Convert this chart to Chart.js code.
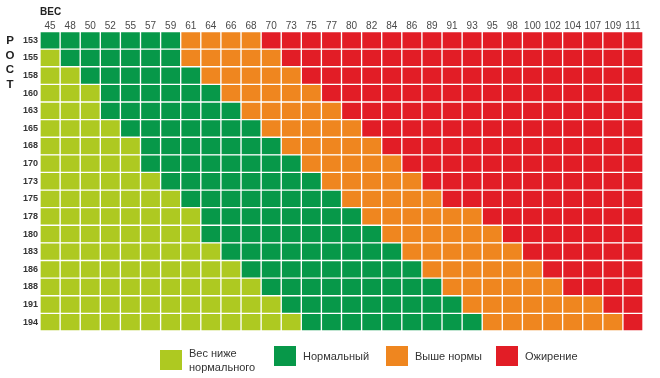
<!DOCTYPE html>
<html>
<head>
<meta charset="utf-8">
<script src="https://cdn.jsdelivr.net/npm/chart.js@4/dist/chart.umd.min.js"></script>
<style>
  html, body { margin: 0; padding: 0; background: #fff; }
  #wrap { position: relative; width: 660px; height: 378px; overflow: hidden; font-family: "Liberation Sans", Arial, sans-serif; }
  #c { position: absolute; left: 0; top: 0; }
  #rost { position: absolute; left: 3px; top: 33px; width: 14px; text-align: center; font-weight: bold; font-size: 11.5px; line-height: 14.5px; color: #222; }
  .lg { position: absolute; top: 346px; display: flex; align-items: center; font-size: 11px; color: #333; }
  .sw { width: 22px; height: 20px; margin-right: 7px; flex: none; }
  .lt { line-height: 14px; }
</style>
</head>
<body>
<div id="wrap">
  <canvas id="c" width="660" height="378"></canvas>
  <div id="rost">Р<br>О<br>С<br>Т</div>
  <div id="legend"></div>
</div>
<script>
// Weights (columns, kg) and heights (rows, cm)
const weights = [45,48,50,52,55,57,59,61,64,66,68,70,73,75,77,80,82,84,86,89,91,93,95,98,100,102,104,107,109,111];
const heights = [153,155,158,160,163,165,168,170,173,175,178,180,183,186,188,191,194];
// Per height row: number of cells in each category, read left to right
const underCount  = [0,1,2,3,3,4,5,5,6,7,8,8,9,10,11,12,13];
const normalCount = [7,6,6,6,7,7,7,8,8,8,8,9,9,9,9,9,9];
const overCount   = [4,5,5,5,5,5,5,5,5,5,6,6,6,6,6,7,7];
// Categories
const categoryNames = ['Вес ниже\nнормального', 'Нормальный', 'Выше нормы', 'Ожирение'];
const categoryColors = ['#aec921', '#079849', '#ef861f', '#e21d26'];

function categoryOf(row, col) {
  const u = underCount[row], n = normalCount[row], o = overCount[row];
  if (col < u) return 0;
  if (col < u + n) return 1;
  if (col < u + n + o) return 2;
  return 3;
}

Chart.defaults.font.family = '"Liberation Sans", Arial, sans-serif';

const datasets = weights.map((w, col) => ({
  label: String(w),
  data: heights.map(() => [col, col + 1]),
  backgroundColor: (ctx) => categoryColors[categoryOf(ctx.dataIndex, col)]
}));

new Chart(document.getElementById('c'), {
  type: 'bar',
  data: { labels: heights.map(String), datasets },
  options: {
    indexAxis: 'y',
    responsive: false,
    animation: false,
    layout: { padding: { left: 0, right: 17, top: 0, bottom: 47 } },
    plugins: { legend: { display: false }, tooltip: { enabled: false } },
    datasets: {
      bar: {
        categoryPercentage: 1,
        barPercentage: 1,
        grouped: false,
        borderColor: '#ffffff',
        borderWidth: 1,
        borderSkipped: false
      }
    },
    scales: {
      x: {
        type: 'linear',
        position: 'top',
        min: 0,
        max: weights.length,
        grid: { display: false, drawTicks: false },
        border: { display: false },
        afterBuildTicks: (s) => { s.ticks = weights.map((w, i) => ({ value: i + 0.5 })); },
        ticks: {
          autoSkip: false,
          maxRotation: 0,
          padding: -1,
          color: '#4a4a4a',
          font: { size: 10 },
          callback: (v) => String(weights[Math.floor(v)])
        },
        title: {
          display: true,
          text: 'ВЕС',
          align: 'start',
          color: '#222',
          font: { size: 10, weight: 'bold' },
          padding: { top: 6, bottom: 2 }
        },
        afterFit: (s) => { s.height = 31.5; }
      },
      y: {
        type: 'category',
        grid: { display: false, drawTicks: false },
        border: { display: false },
        ticks: { padding: 2, color: '#333', font: { size: 9, weight: 'bold' } },
        afterFit: (s) => { s.width = 40; }
      }
    }
  }
});

// HTML legend
const legendPos = [160, 274, 386, 496];
const legend = document.getElementById('legend');
categoryNames.forEach((name, i) => {
  const item = document.createElement('div');
  item.className = 'lg';
  item.style.left = legendPos[i] + 'px';
  const sw = document.createElement('div');
  sw.className = 'sw';
  sw.style.background = categoryColors[i];
  const t = document.createElement('div');
  t.className = 'lt';
  name.split('\n').forEach((line, k) => {
    if (k) t.appendChild(document.createElement('br'));
    t.appendChild(document.createTextNode(line));
  });
  item.appendChild(sw);
  item.appendChild(t);
  legend.appendChild(item);
});
</script>
</body>
</html>
